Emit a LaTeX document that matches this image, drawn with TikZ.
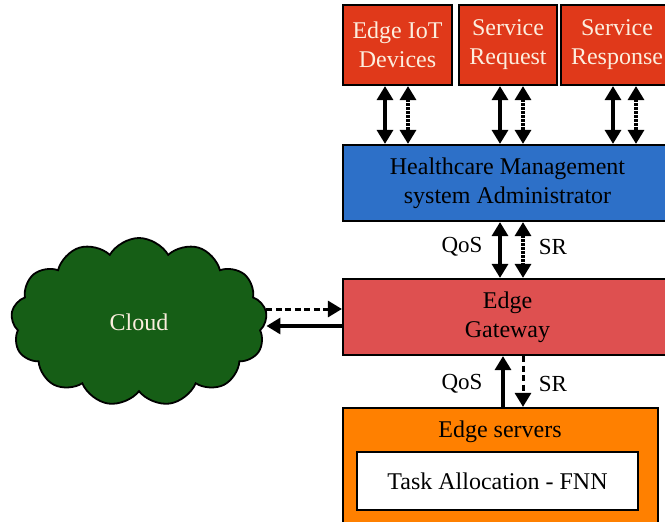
\documentclass[tikz,border=0pt]{standalone}
\usepackage{fontspec}
\setmainfont{Liberation Serif}
\usepackage{tikz}
\definecolor{devicered}{RGB}{224, 57, 26}
\definecolor{adminblue}{RGB}{45, 112, 200}
\definecolor{gatewayred}{RGB}{222, 80, 80}
\definecolor{serverorange}{RGB}{255, 128, 0}
\definecolor{cloudgreen}{RGB}{22, 94, 22}
\definecolor{lighttext}{RGB}{252, 238, 222}
\usetikzlibrary{shapes.symbols, arrows.meta, positioning, calc}

\begin{document}
\begin{tikzpicture}[x=1pt, y=-1pt,
    box/.style={draw=black, line width=2.2pt, align=center, inner sep=0pt,
        font=\fontsize{24}{29}\selectfont},
    devbox/.style={box, fill=devicered, text=lighttext, minimum height=80pt},
    wide/.style={box, minimum width=329pt, minimum height=76pt},
    tag/.style={font=\fontsize{23}{27}\selectfont},
    solidlink/.style={line width=3.2pt},
    dottedlink/.style={line width=3.2pt, dash pattern=on 2.2pt off 1.8pt},
    dashedlink/.style={line width=3pt, dash pattern=on 6pt off 3.5pt},
    both/.style={{Triangle[length=14pt, width=16pt]}-{Triangle[length=14pt, width=16pt]}},
    one/.style={-{Triangle[length=14pt, width=16pt]}}
]
    \clip (0,0) rectangle (665,522);

    % Top row
    \node[devbox, minimum width=109pt] (iot) at (397.5,45) {Edge IoT\\Devices};
    \node[devbox, minimum width=98pt] (req) at (508,45) {Service\\Request};
    \node[devbox, minimum width=112pt] (resp) at (617,45) {Service\\Response};

    % Middle layers
    \node[wide, fill=adminblue] (admin) at (507.5,183) {Healthcare Management\\system Administrator};
    \node[wide, fill=gatewayred] (gw) at (507.5,317) {Edge\\Gateway};

    % Edge servers with inner box
    \node[box, fill=serverorange, minimum width=315pt, minimum height=138pt] (srv) at (500.5,477) {};
    \node[font=\fontsize{24}{29}\selectfont] (srvname) at (500,432) {Edge servers};
    \node[box, fill=white, minimum width=281pt, minimum height=58pt] (task) at (497.5,481) {Task Allocation - FNN};

    % Cloud
    \node[cloud, draw=black, line width=1.8pt, fill=cloudgreen, text=lighttext,
        cloud puffs=13, cloud puff arc=120, aspect=1.5,
        minimum width=256pt, minimum height=168pt, font=\fontsize{24}{29}\selectfont] (cloud) at (139,322) {Cloud};

    % Devices <-> administrator
    \foreach \n/\a/\b in {iot/385/408, req/500/523, resp/613/636} {
        \draw[solidlink, both] (\a,0 |- \n.south) -- (\a,0 |- admin.north);
        \draw[dottedlink, both] (\b,0 |- \n.south) -- (\b,0 |- admin.north);
    }

    % Administrator <-> gateway
    \draw[solidlink, both] (500,0 |- admin.south) -- (500,0 |- gw.north);
    \draw[dottedlink, both] (523,0 |- admin.south) -- (523,0 |- gw.north);
    \node[tag] (qos1) at (462,247) {QoS};
    \node[tag] (sr1) at (553,247) {SR};

    % Gateway <-> servers
    \draw[solidlink, one] (503,0 |- srv.north) -- (503,0 |- gw.south);
    \draw[dashedlink, one] (523,0 |- gw.south) -- (523,0 |- srv.north);
    \node[tag] (qos2) at (462,384) {QoS};
    \node[tag] (sr2) at (553,384) {SR};

    % Cloud <-> gateway
    \draw[dashedlink, one] (cloud.east |- 0,309) -- (gw.west |- 0,309);
    \draw[solidlink, one] (gw.west |- 0,326) -- (cloud.east |- 0,326);
\end{tikzpicture}
\end{document}
